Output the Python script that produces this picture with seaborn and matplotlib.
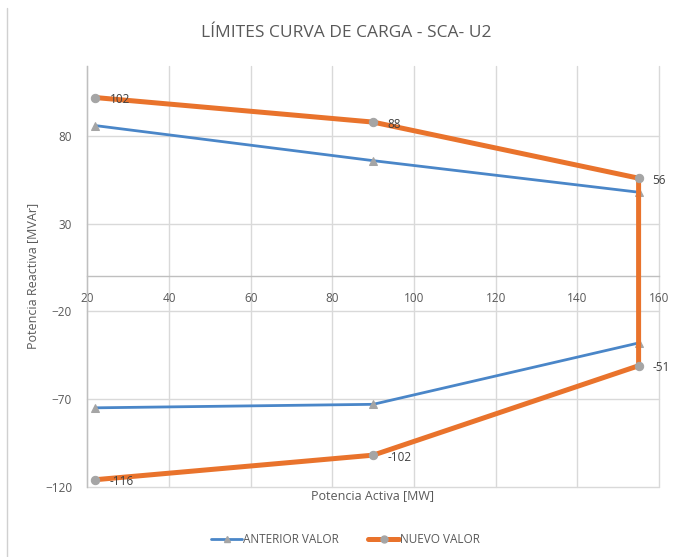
import matplotlib
matplotlib.use("Agg")
import matplotlib.pyplot as plt
from matplotlib.lines import Line2D
import seaborn as sns
import pandas as pd

# Capability curve limits (P in MW, Q in MVAr)
p_anterior = [22, 90, 155, 155, 90, 22]
q_anterior = [86, 66, 48, -38, -73, -75]
p_nuevo = [22, 90, 155, 155, 90, 22]
q_nuevo = [102, 88, 56, -51, -102, -116]

x_ticks = [20, 40, 60, 80, 100, 120, 140, 160]
y_ticks = [-120, -70, -20, 30, 80]

series_names = ["ANTERIOR VALOR", "NUEVO VALOR"]
title_text = "LÍMITES CURVA DE CARGA - SCA- U2"

BLUE = "#4A86C8"
ORANGE = "#E9732C"
MARKER_GREY = "#A5A5A5"
TEXT_GREY = "#595959"
GRID_GREY = "#D9D9D9"

sns.set_theme(style="white")
plt.rcParams["font.family"] = ["Open Sans", "DejaVu Sans"]

df_ant = pd.DataFrame({"P": p_anterior, "Q": q_anterior})
df_nue = pd.DataFrame({"P": p_nuevo, "Q": q_nuevo})

fig = plt.figure(figsize=(6.78, 5.57), dpi=100)
ax = fig.add_axes([0.1288, 0.1262, 0.9720 - 0.1288, 0.8815 - 0.1262])

sns.lineplot(data=df_ant, x="P", y="Q", sort=False, estimator=None, ax=ax,
             color=BLUE, linewidth=2.0, marker="^", markersize=6,
             markerfacecolor=MARKER_GREY, markeredgecolor=MARKER_GREY, zorder=3)
sns.lineplot(data=df_nue, x="P", y="Q", sort=False, estimator=None, ax=ax,
             color=ORANGE, linewidth=3.6, marker="o", markersize=6,
             markerfacecolor=MARKER_GREY, markeredgecolor=MARKER_GREY, zorder=4)

# Value labels on the new curve
for p, q in zip(p_nuevo, q_nuevo):
    ax.annotate(f"{q}", (p, q), xytext=(14, -2), textcoords="offset pixels",
                ha="left", va="center", fontsize=8.5, color="#404040", zorder=5)

ax.set_xlim(20, 160)
ax.set_ylim(-120, 120)
ax.set_xticks(x_ticks)
ax.set_yticks(y_ticks)
ax.grid(True, color=GRID_GREY, linewidth=1.0)
ax.set_axisbelow(True)

for side in ["top", "right"]:
    ax.spines[side].set_visible(False)
ax.spines["bottom"].set_position(("data", 0))
ax.spines["bottom"].set_color("#BFBFBF")
ax.spines["left"].set_color("#BFBFBF")
ax.spines["bottom"].set_linewidth(1.0)
ax.spines["left"].set_linewidth(1.0)
for gl in ax.get_xgridlines() + ax.get_ygridlines():
    gl.set_clip_on(False)

ax.tick_params(axis="x", length=0, pad=11, labelsize=8.5, labelcolor=TEXT_GREY)
ax.tick_params(axis="y", length=0, pad=11, labelsize=8.5, labelcolor=TEXT_GREY)

ax.set_xlabel("")
ax.set_ylabel("")
fig.text(0.55, 0.111, "Potencia Activa [MW]", ha="center", va="center",
         fontsize=9, color=TEXT_GREY)
fig.text(0.048, 0.505, "Potencia Reactiva [MVAr]", ha="center", va="center",
         rotation=90, fontsize=9, color=TEXT_GREY)
fig.text(0.51, 0.94, title_text, ha="center", va="center",
         fontsize=12.5, color=TEXT_GREY)

# Thin frame line on the left of the chart area
fig.add_artist(Line2D([0.0103, 0.0103], [0.0, 0.985], transform=fig.transFigure,
                      color="#D0D0D0", linewidth=1.0))

handles = [
    Line2D([], [], color=BLUE, linewidth=2.0, marker="^", markersize=5,
           markerfacecolor=MARKER_GREY, markeredgecolor=MARKER_GREY),
    Line2D([], [], color=ORANGE, linewidth=3.6, marker="o", markersize=5,
           markerfacecolor=MARKER_GREY, markeredgecolor=MARKER_GREY),
]
fig.legend(handles, series_names, loc="center", bbox_to_anchor=(0.51, 0.032),
           ncol=2, frameon=False, fontsize=8.5, labelcolor=TEXT_GREY,
           handlelength=2.6, handletextpad=0.1, columnspacing=2.5)

fig.savefig("out.png", dpi=100)
